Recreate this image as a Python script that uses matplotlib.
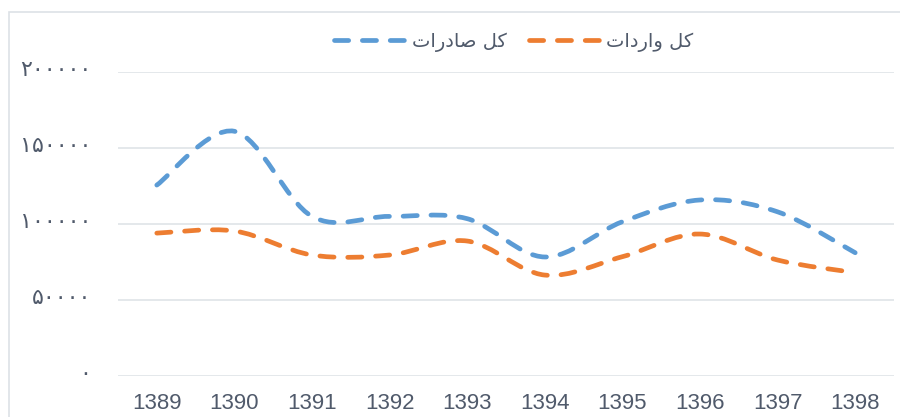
import numpy as np
import matplotlib
matplotlib.use("Agg")
import matplotlib.pyplot as plt
from matplotlib.path import Path
from matplotlib.patches import PathPatch, Rectangle
from matplotlib.lines import Line2D
from matplotlib.transforms import ScaledTranslation

# values
years = ["1389", "1390", "1391", "1392", "1393",
         "1394", "1395", "1396", "1397", "1398"]
exports = [125600, 161000, 105000, 105000, 103500,
           78300, 101500, 115800, 108000, 81100]
imports = [94000, 95400, 79600, 79600, 88800,
           66400, 78500, 93400, 76300, 68000]
y_ticks = [0, 50000, 100000, 150000, 200000]
y_labels = ["\u06f0", "\u06f5\u06f0\u06f0\u06f0\u06f0",
            "\u06f1\u06f0\u06f0\u06f0\u06f0\u06f0",
            "\u06f1\u06f5\u06f0\u06f0\u06f0\u06f0",
            "\u06f2\u06f0\u06f0\u06f0\u06f0\u06f0"]
# "کل صادرات" / "کل واردات", pre-shaped into visual order
label_exports = "\ufe95\ufe8d\ufead\ufea9\ufe8e\ufebb \ufede\ufedb"
label_imports = "\ufe95\ufe8d\ufea9\ufead\ufe8d\ufeed \ufede\ufedb"

BLUE = "#5B9BD5"
ORANGE = "#ED7D31"
GRID = "#DDE1E6"
TEXT = "#505A6B"
DASH = (0, (3.0, 2.9))


def smooth_path(xs, ys):
    """Catmull-Rom style Bezier path, like Excel's smoothed line."""
    pts = np.column_stack([xs, ys]).astype(float)
    n = len(pts)
    verts = [pts[0]]
    codes = [Path.MOVETO]
    for i in range(n - 1):
        p0 = pts[max(i - 1, 0)]
        p1 = pts[i]
        p2 = pts[i + 1]
        p3 = pts[min(i + 2, n - 1)]
        c1 = p1 + (p2 - p0) / 6.0
        c2 = p2 - (p3 - p1) / 6.0
        verts += [c1, c2, p2]
        codes += [Path.CURVE4] * 3
    return Path(verts, codes)


fig = plt.figure(figsize=(9, 4.17), dpi=100)
ax = fig.add_axes([118 / 900, 1 - 376 / 417, 776 / 900, (376 - 72) / 417])

x = np.arange(len(years))
for vals, col in [(exports, BLUE), (imports, ORANGE)]:
    patch = PathPatch(smooth_path(x, vals), fill=False, edgecolor=col,
                      lw=3.4, linestyle=DASH, capstyle="round", zorder=3)
    ax.add_patch(patch)

ax.set_xlim(-0.5, len(years) - 0.5)
ax.set_ylim(0, 200000)
ax.set_yticks(y_ticks)
ax.set_yticklabels(y_labels, fontfamily="DejaVu Sans", fontsize=16, color=TEXT)
ax.set_xticks(x)
ax.set_xticklabels(years, fontfamily="Liberation Sans", fontsize=16,
                   color=TEXT)
ax.tick_params(axis="y", length=0, pad=19)
ax.tick_params(axis="x", length=0, pad=12)
ax.grid(axis="y", color=GRID, lw=1.1)
ax.set_axisbelow(True)
for s in ax.spines.values():
    s.set_visible(False)

# y labels sit a little above their gridlines in the reference
lift = ScaledTranslation(0, 4 / 100, fig.dpi_scale_trans)
for t in ax.get_yticklabels():
    t.set_transform(t.get_transform() + lift)

handles = [Line2D([], [], color=BLUE, lw=3.4, linestyle=DASH,
                  dash_capstyle="round"),
           Line2D([], [], color=ORANGE, lw=3.4, linestyle=DASH,
                  dash_capstyle="round")]
fig.legend(handles, [label_exports, label_imports], loc="center",
           bbox_to_anchor=(514 / 900, 1 - 42 / 417), ncol=2, frameon=False,
           handlelength=3.8, handletextpad=0.2, columnspacing=1.1,
           prop={"family": "DejaVu Sans", "size": 14}, labelcolor=TEXT)

# chart-area border (clipped on the right and bottom in the reference)
fig.patches.append(Rectangle((9 / 900, -0.1), 1.2, 1 - 12 / 417 + 0.1,
                             transform=fig.transFigure, fill=False,
                             edgecolor=GRID, lw=1.2))

fig.savefig("out.png", dpi=100)
